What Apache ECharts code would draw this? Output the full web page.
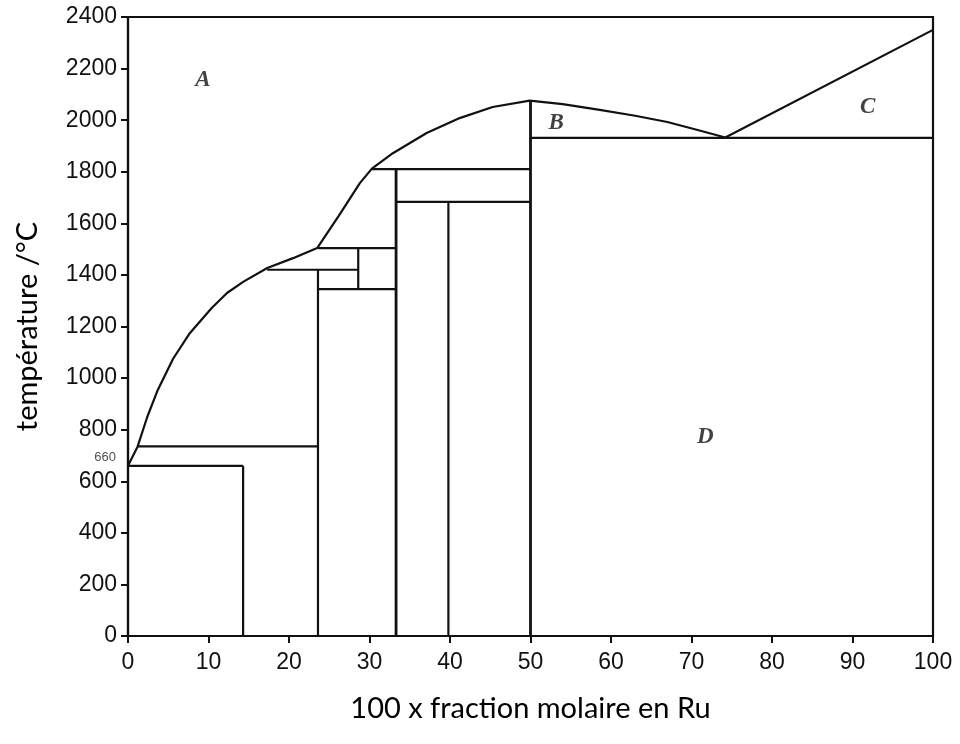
<!DOCTYPE html>
<html>
<head>
<meta charset="utf-8">
<script src="https://cdn.jsdelivr.net/npm/echarts@6/dist/echarts.min.js"></script>
<style>
  html, body { margin: 0; padding: 0; background: #fff; }
  #chart { width: 960px; height: 744px; }
</style>
</head>
<body>
<div id="chart"></div>
<script>
// courbe du liquidus (x = 100 x fraction molaire Ru, T en °C)
var liquidus = [
    [0, 660], [1.2, 735], [2.4, 850], [3.7, 954], [5.6, 1075], [7.7, 1175],
    [10.4, 1272], [12.3, 1330], [14.3, 1373], [17.3, 1427], [20.5, 1465],
    [23.5, 1504], [26.2, 1630], [28.8, 1756], [30.3, 1812], [32.9, 1872],
    [37.1, 1950], [41.2, 2008], [45.3, 2051], [49.9, 2076], [54, 2062],
    [58.6, 2040], [63, 2017], [67, 1993], [71, 1960], [74.2, 1933], [100, 2350]
]

// paliers horizontaux : [x debut, x fin, T]
var horizontals = [
    [0, 14.3, 660],
    [1.2, 23.6, 735],
    [17.3, 28.6, 1420],
    [23.6, 33.3, 1504],
    [23.6, 33.3, 1345],
    [30.3, 50, 1810],
    [33.3, 50, 1683],
    [50, 100, 1931]
]

// traits verticaux : [x, T bas, T haut]
var verticals = [
    [14.3, 0, 660],
    [23.6, 0, 1420],
    [28.6, 1345, 1504],
    [33.3, 0, 1810],
    [39.8, 0, 1683],
    [50, 0, 2076]
]

var phaseNames = ['A', 'B', 'C', 'D']
var phasePos = [[9.3, 2156], [53.2, 1989], [91.9, 2051], [71.7, 772]]

var alMelting = [[0, 660]]

var chart = echarts.init(document.getElementById('chart'))

var series = [{
    type: 'line',
    data: liquidus,
    symbol: 'none',
    lineStyle: { color: '#111', width: 2.2 },
    z: 3
}]

horizontals.forEach(function (h) {
    series.push({
        type: 'line',
        data: [[h[0], h[2]], [h[1], h[2]]],
        symbol: 'none',
        lineStyle: { color: '#111', width: 2.2 }
    })
})

verticals.forEach(function (v) {
    series.push({
        type: 'line',
        data: [[v[0], v[1]], [v[0], v[2]]],
        symbol: 'none',
        lineStyle: { color: '#111', width: (v[0] == 33.3 || v[0] == 50) ? 2.8 : 2.2 }
    })
})

series.push({
    type: 'scatter',
    symbolSize: 0,
    data: phasePos.map(function (p, i) { return { name: phaseNames[i], value: p } }),
    label: {
        show: true,
        position: 'inside',
        formatter: '{b}',
        fontFamily: 'Liberation Serif',
        fontStyle: 'italic',
        fontWeight: 'bold',
        fontSize: 23,
        color: '#111'
    }
})

series.push({
    type: 'scatter',
    symbolSize: 0,
    clip: false,
    data: alMelting,
    label: {
        show: true,
        position: 'left',
        distance: 12,
        offset: [0, -8],
        formatter: '660',
        fontFamily: 'Liberation Sans',
        fontSize: 13,
        color: '#222'
    }
})

var option = {
    backgroundColor: '#fff',
    animation: false,
    grid: {
        left: 128,
        right: 27,
        top: 17,
        bottom: 108,
        show: true,
        borderColor: '#111',
        borderWidth: 2.2
    },
    xAxis: {
        type: 'value',
        min: 0,
        max: 100,
        interval: 10,
        name: '100 x fraction molaire en Ru',
        nameLocation: 'middle',
        nameGap: 58,
        nameTextStyle: { fontFamily: 'Lato', fontSize: 29, color: '#000' },
        axisLine: { lineStyle: { color: '#111', width: 2.2 } },
        axisTick: { length: 7, lineStyle: { color: '#111', width: 2 } },
        axisLabel: { fontFamily: 'Liberation Sans', fontSize: 23, color: '#111', margin: 15 },
        splitLine: { show: false }
    },
    yAxis: {
        type: 'value',
        min: 0,
        max: 2400,
        interval: 200,
        name: 'température /°C',
        nameLocation: 'middle',
        nameGap: 86,
        nameTextStyle: { fontFamily: 'Lato', fontSize: 29, color: '#000' },
        axisLine: { lineStyle: { color: '#111', width: 2.2 } },
        axisTick: { length: 7, lineStyle: { color: '#111', width: 2 } },
        axisLabel: {
            fontFamily: 'Liberation Sans', fontSize: 23, color: '#111', margin: 11,
            formatter: function (v) { return String(v) }
        },
        splitLine: { show: false }
    },
    series: series
}

chart.setOption(option)
</script>
</body>
</html>
